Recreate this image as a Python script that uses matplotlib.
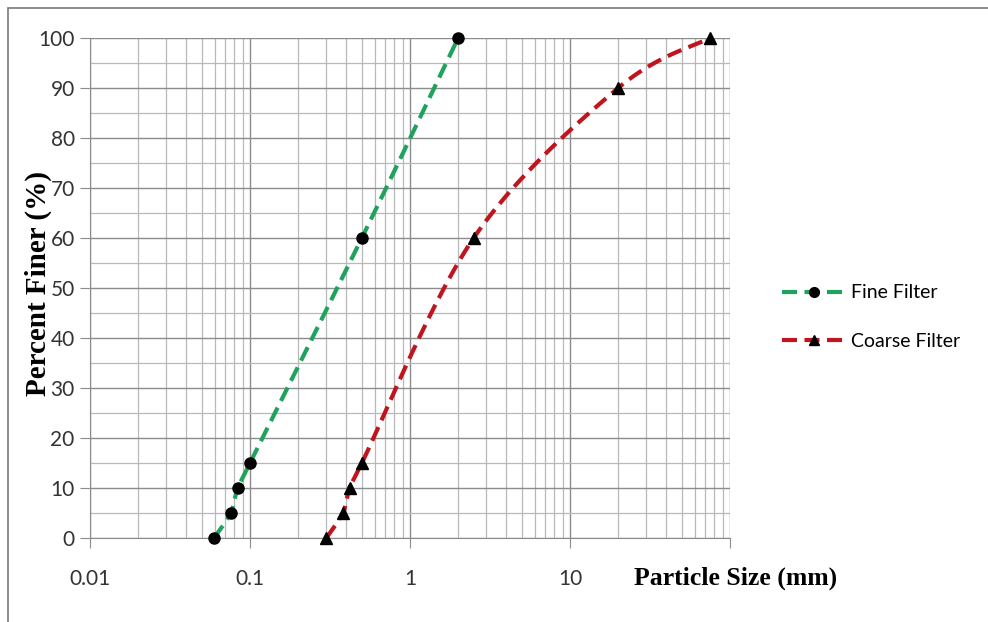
import numpy as np
import matplotlib
matplotlib.use("Agg")
import matplotlib.pyplot as plt
from matplotlib.ticker import FixedLocator, NullFormatter, FixedFormatter
from matplotlib.patches import Rectangle

# Grain size distribution data
fine_size = [0.0596, 0.0757, 0.0838, 0.1, 0.5, 2.0]
fine_finer = [0, 5, 10, 15, 60, 100]

coarse_size = [0.3, 0.38, 0.42, 0.5, 2.5, 20.0, 75.0]
coarse_finer = [0, 5, 10, 15, 60, 90, 100]

x_ticks = [0.01, 0.1, 1, 10, 100]
x_tick_labels = ["0.01", "0.1", "1", "10", ""]
y_ticks = list(range(0, 101, 10))

green = "#1fa35c"
red = "#c0141e"
dash = (0, (3.6, 1.8))


def smooth(xs, ys, n=30):
    # Excel-style smoothed line: Catmull-Rom through the points in (log x, y) space
    lx = np.log10(xs) * 160.0
    py = np.asarray(ys, dtype=float) * 5.0
    pts = np.column_stack([lx, py])
    ext = np.vstack([pts[0], pts, pts[-1]])
    out = []
    for i in range(1, len(ext) - 2):
        p0, p1, p2, p3 = ext[i - 1], ext[i], ext[i + 1], ext[i + 2]
        t = np.linspace(0, 1, n)[:, None]
        c1 = p1 + (p2 - p0) / 6.0
        c2 = p2 - (p3 - p1) / 6.0
        seg = ((1 - t) ** 3) * p1 + 3 * ((1 - t) ** 2) * t * c1 + 3 * (1 - t) * t ** 2 * c2 + t ** 3 * p2
        out.append(seg if i == 1 else seg[1:])
    out = np.vstack(out)
    return 10 ** (out[:, 0] / 160.0), out[:, 1] / 5.0


fig = plt.figure(figsize=(9.88, 6.22), dpi=100)
ax = fig.add_axes([90 / 988, 84 / 622, 640 / 988, 500 / 622])

ax.set_xscale("log")
ax.set_xlim(0.01, 100)
ax.set_ylim(0, 100)

# grid
ax.xaxis.set_major_locator(FixedLocator(x_ticks))
ax.xaxis.set_major_formatter(FixedFormatter(x_tick_labels))
minors = [m * 10.0 ** e for e in range(-2, 2) for m in range(2, 10)]
ax.xaxis.set_minor_locator(FixedLocator(minors))
ax.xaxis.set_minor_formatter(NullFormatter())
ax.yaxis.set_major_locator(FixedLocator(y_ticks))
ax.yaxis.set_minor_locator(FixedLocator(list(range(5, 100, 10))))

ax.grid(True, which="major", axis="both", color="#8c8c8c", linewidth=1.0)
ax.grid(True, which="minor", axis="x", color="#b8b8b8", linewidth=0.9)
ax.grid(True, which="minor", axis="y", color="#b8b8b8", linewidth=0.9)
ax.set_axisbelow(True)

for s in ax.spines.values():
    s.set_visible(False)
ax.spines["left"].set_visible(True)
ax.spines["left"].set_color("#8c8c8c")
ax.spines["bottom"].set_visible(True)
ax.spines["bottom"].set_color("#8c8c8c")

ax.tick_params(axis="y", which="major", length=7, color="#8c8c8c", labelsize=15,
               labelcolor="#333333", pad=4)
ax.tick_params(axis="y", which="minor", length=0)
ax.tick_params(axis="x", which="major", length=7, color="#8c8c8c", labelsize=15,
               labelcolor="#333333", pad=15)
ax.tick_params(axis="x", which="minor", length=0)
for lab in ax.get_xticklabels() + ax.get_yticklabels():
    lab.set_family("Lato")

fx, fy = smooth(fine_size, fine_finer)
cx, cy = smooth(coarse_size, coarse_finer)

ax.plot(fx, fy, color=green, linewidth=3, linestyle=dash, zorder=3)
ax.plot(fine_size, fine_finer, linestyle="none", marker="o", markersize=8,
        color="black", zorder=4, clip_on=False)
ax.plot(cx, cy, color=red, linewidth=3, linestyle=dash, zorder=3)
ax.plot(coarse_size, coarse_finer, linestyle="none", marker="^", markersize=8,
        color="black", zorder=4, clip_on=False)

# legend handles
h_fine, = ax.plot([], [], color=green, linewidth=3, linestyle=dash,
                  marker="o", markersize=7, markerfacecolor="black", markeredgecolor="black")
h_coarse, = ax.plot([], [], color=red, linewidth=3, linestyle=dash,
                    marker="^", markersize=7, markerfacecolor="black", markeredgecolor="black")
fig.legend([h_fine, h_coarse], ["Fine Filter", "Coarse Filter"],
           loc="center left", bbox_to_anchor=(764 / 988, 1 - 317 / 622),
           frameon=False, handlelength=3.3, handletextpad=0.25, labelspacing=1.6,
           prop={"family": "Lato", "size": 14})

fig.text(38 / 988, 1 - 284 / 622, "Percent Finer (%)", rotation=90, ha="center",
         va="center", family="Liberation Serif", fontweight="bold", fontsize=21)
fig.text(736 / 988, 1 - 578 / 622, "Particle Size (mm)", ha="center", va="center",
         family="Liberation Serif", fontweight="bold", fontsize=18.5)

# thin frame around the chart
fig.patches.append(Rectangle((8 / 988, -0.01), 1.05, 1 - 8 / 622 + 0.01,
                             transform=fig.transFigure, fill=False,
                             edgecolor="#7a7a7a", linewidth=1.2))

fig.savefig("out.png", dpi=100)
